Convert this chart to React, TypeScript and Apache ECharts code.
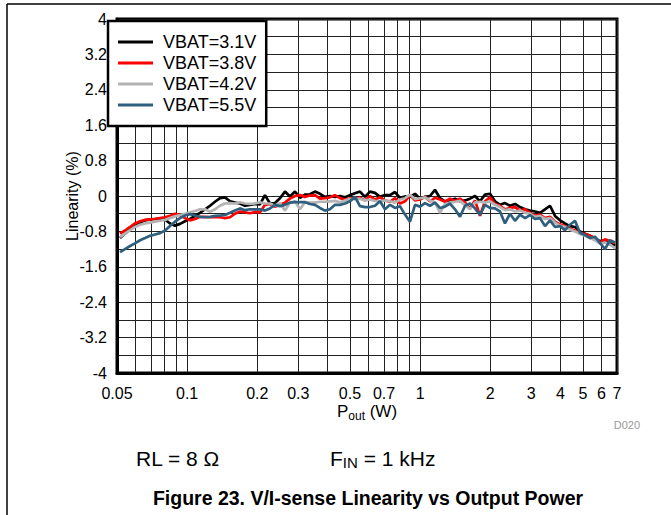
import React, { useEffect, useRef } from "react";
import * as echarts from "echarts";

// Output power sample points (W)
const powerW = [
  0.0515, 0.0541, 0.0569, 0.0597, 0.0628, 0.066, 0.0693, 0.0728, 0.0765, 0.0804,
  0.0844, 0.0887, 0.0932, 0.0979, 0.1029, 0.1081, 0.1136, 0.1193, 0.1254, 0.1317,
  0.1384, 0.1454, 0.1528, 0.1605, 0.1686, 0.1771, 0.1861, 0.1955, 0.2054, 0.2158,
  0.2268, 0.2382, 0.2503, 0.263, 0.2763, 0.2903, 0.305, 0.3204, 0.3367, 0.3537,
  0.3716, 0.3905, 0.4103, 0.4311, 0.4529, 0.4759, 0.5, 0.5253, 0.552, 0.5799,
  0.6093, 0.6402, 0.6726, 0.7067, 0.7425, 0.7801, 0.8196, 0.8612, 0.9048, 0.9506,
  0.9988, 1.0495, 1.1026, 1.1585, 1.2172, 1.2789, 1.3437, 1.4118, 1.4833, 1.5584,
  1.6374, 1.7204, 1.8073, 1.8989, 1.9953, 2.096, 2.2024, 2.3133, 2.4305, 2.5546,
  2.6837, 2.8197, 2.962, 3.1121, 3.2704, 3.4356, 3.6102, 3.7931, 3.9848, 4.1869,
  4.3982, 4.6216, 4.855, 5.1017, 5.3605, 5.6299, 5.9159, 6.2145, 6.5313, 6.8628,
];

// Linearity (%) per battery voltage
const vbat31 = [
  -0.95, -0.85, -0.75, -0.67, -0.6, -0.55, -0.53, -0.52, -0.51, -0.53,
  -0.62, -0.67, -0.63, -0.57, -0.52, -0.45, -0.38, -0.3, -0.22, -0.13,
  -0.05, -0.03, -0.12, -0.15, -0.17, -0.22, -0.2, -0.18, -0.19, 0.02,
  -0.17, -0.16, -0.05, 0.1, -0.01, 0.1, -0.04, 0.03, 0.04, 0.1,
  0.05, -0.02, 0.0, -0.02, 0.0, -0.03, 0.02, 0.06, 0.1, -0.02,
  0.1, 0.07, -0.02, 0.02, 0.02, 0.09, -0.04, -0.01, -0.02, 0.05,
  -0.06, -0.02, 0.0, 0.14, -0.05, -0.12, -0.1, -0.06, -0.12, -0.1,
  -0.06, 0.0, -0.12, 0.03, 0.05, -0.12, -0.2, -0.16, -0.22, -0.18,
  -0.25, -0.3, -0.33, -0.35, -0.38, -0.3, -0.22, -0.45, -0.55, -0.62,
  -0.68, -0.7, -0.8, -0.85, -0.9, -0.96, -1.02, -1.0, -1.05, -1.12,
];
const vbat38 = [
  -0.85, -0.78, -0.7, -0.62, -0.57, -0.54, -0.53, -0.52, -0.5, -0.48,
  -0.45, -0.4, -0.43, -0.5, -0.55, -0.52, -0.47, -0.47, -0.48, -0.48,
  -0.48, -0.5, -0.48, -0.4, -0.35, -0.37, -0.39, -0.36, -0.37, -0.2,
  -0.18, -0.24, -0.2, -0.15, -0.06, 0.0, 0.02, -0.02, 0.01, 0.02,
  -0.06, -0.05, -0.03, 0.02, -0.05, -0.08, -0.06, -0.05, -0.04, -0.1,
  0.0, -0.08, -0.03, -0.1, -0.13, -0.05, -0.17, -0.12, 0.02, -0.1,
  -0.08, -0.02, -0.12, -0.04, -0.08, -0.13, -0.06, -0.12, -0.06, -0.15,
  -0.28, -0.1, -0.45, -0.12, -0.03, -0.18, -0.22, -0.3, -0.27, -0.25,
  -0.33, -0.3, -0.38, -0.45, -0.42, -0.5, -0.47, -0.58, -0.64, -0.68,
  -0.74, -0.78, -0.83, -0.86, -0.9, -0.95, -1.05, -0.98, -1.02, -1.07,
];
const vbat42 = [
  -0.93, -0.85, -0.77, -0.7, -0.65, -0.62, -0.6, -0.58, -0.56, -0.54,
  -0.5, -0.46, -0.43, -0.4, -0.37, -0.34, -0.3, -0.3, -0.36, -0.3,
  -0.22, -0.17, -0.16, -0.17, -0.14, -0.17, -0.18, -0.17, -0.14, -0.17,
  -0.17, -0.22, -0.16, -0.33, -0.15, -0.12, -0.3, -0.14, -0.15, -0.15,
  -0.13, -0.13, -0.12, -0.11, -0.14, -0.1, -0.07, -0.07, -0.06, -0.1,
  -0.08, -0.11, -0.12, -0.1, -0.12, -0.15, -0.08, -0.05, 0.03, -0.07,
  -0.05, -0.03, -0.1, -0.14, -0.38, -0.18, -0.15, -0.13, -0.11, -0.2,
  -0.3, -0.15, -0.13, -0.15, -0.12, -0.2, -0.25, -0.32, -0.3, -0.35,
  -0.33, -0.38, -0.4, -0.47, -0.45, -0.52, -0.5, -0.6, -0.67, -0.7,
  -0.76, -0.8, -0.86, -0.9, -0.95, -1.0, -1.08, -1.05, -1.1, -1.18,
];
const vbat55 = [
  -1.27, -1.2, -1.13, -1.07, -1.0, -0.95, -0.9, -0.87, -0.84, -0.78,
  -0.68, -0.58, -0.5, -0.44, -0.41, -0.44, -0.47, -0.48, -0.47, -0.45,
  -0.44, -0.43, -0.38, -0.33, -0.28, -0.32, -0.3, -0.3, -0.3, -0.33,
  -0.28, -0.2, -0.23, -0.2, -0.15, -0.14, -0.14, -0.14, -0.18, -0.2,
  -0.27, -0.33, -0.3, -0.2, -0.2, -0.17, -0.12, -0.02, -0.23, -0.25,
  -0.25, -0.22, -0.12, -0.3, -0.2, -0.27, -0.23, -0.42, -0.58, -0.2,
  -0.24, -0.16, -0.22, -0.15, -0.27, -0.24, -0.17, -0.3, -0.47, -0.22,
  -0.17, -0.28, -0.43, -0.2, -0.27, -0.28, -0.35, -0.62, -0.4, -0.56,
  -0.42, -0.5, -0.43, -0.52, -0.5, -0.68, -0.55, -0.7, -0.68, -0.77,
  -0.65, -0.56, -0.83, -0.88, -0.95, -0.92, -1.06, -1.2, -1.0, -1.05,
];

const seriesNames = ["VBAT=3.1V", "VBAT=3.8V", "VBAT=4.2V", "VBAT=5.5V"];
const seriesValues = [vbat31, vbat38, vbat42, vbat55];
const seriesColors = ["#000000", "#ff0000", "#b3b3b3", "#2e5f7e"];

const xTickLabels = [0.05, 0.1, 0.2, 0.3, 0.5, 0.7, 1, 2, 3, 4, 5, 6, 7];
const xGridValues = [
  0.05, 0.06, 0.07, 0.08, 0.09, 0.1, 0.2, 0.3, 0.4, 0.5, 0.6, 0.7, 0.8, 0.9,
  1, 2, 3, 4, 5, 6, 7,
];
const xMin = 0.05;
const xMax = 7;
const yMin = -4;
const yMax = 4;
const yGridStep = 0.4;
const yLabelStep = 0.8;

const FONT = "'Liberation Sans', Arial, Helvetica, sans-serif";

export default function App() {
  const ref = useRef<HTMLDivElement>(null);

  useEffect(() => {
    if (!ref.current) return;
    const chart = echarts.init(ref.current, null, { renderer: "svg" });
    const lg = (v: number) => Math.log10(v);
    const fmtP = (v: number) =>
      String(parseFloat(Math.pow(10, v).toPrecision(2)));
    const labelRatio = Math.round(yLabelStep / yGridStep);

    const option: any = {
      animation: false,
      backgroundColor: "#ffffff",
      textStyle: { fontFamily: FONT, color: "#000" },
      grid: {
        left: 117,
        top: 19,
        width: 500,
        height: 354,
        show: true,
        borderColor: "#000",
        borderWidth: 3,
        backgroundColor: "transparent",
      },
      legend: {
        data: seriesNames,
        orient: "vertical",
        left: 108,
        top: 21,
        icon: "rect",
        itemWidth: 35,
        itemHeight: 3,
        itemGap: 1,
        padding: [11, 10, 11, 10],
        backgroundColor: "#ffffff",
        borderColor: "#000",
        borderWidth: 2.5,
        textStyle: {
          fontSize: 18,
          color: "#000",
          fontFamily: FONT,
          lineHeight: 20,
          padding: [0, 0, 0, 5],
        },
      },
      xAxis: {
        type: "value",
        min: lg(xMin),
        max: lg(xMax),
        name: "{a|P}{s|out}{a| (W)}",
        nameLocation: "middle",
        nameGap: 27,
        nameMoveOverlap: false,
        nameTextStyle: {
          rich: {
            a: { fontSize: 17, fontFamily: FONT, color: "#000", lineHeight: 22 },
            s: {
              fontSize: 12,
              fontFamily: FONT,
              color: "#000",
              lineHeight: 22,
              verticalAlign: "bottom",
              padding: [6, 0, 0, 0],
            },
          },
        },
        axisLine: { show: true, onZero: false, lineStyle: { color: "#000", width: 3 } },
        axisTick: { show: false, customValues: xGridValues.map(lg) },
        splitLine: { show: true, lineStyle: { color: "#222", width: 1 } },
        axisLabel: {
          customValues: xTickLabels.map(lg),
          formatter: (v: number) => fmtP(v),
          fontSize: 16,
          color: "#000",
          fontFamily: FONT,
          margin: 12,
        },
      },
      yAxis: {
        type: "value",
        min: yMin,
        max: yMax,
        interval: yGridStep,
        name: "Linearity (%)",
        nameLocation: "middle",
        nameRotate: 90,
        nameGap: 37,
        nameMoveOverlap: false,
        nameTextStyle: { fontSize: 16, fontFamily: FONT, color: "#000" },
        axisLine: { show: true, onZero: false, lineStyle: { color: "#000", width: 3 } },
        axisTick: { show: false },
        splitLine: { show: true, lineStyle: { color: "#222", width: 1 } },
        axisLabel: {
          fontSize: 16,
          color: "#000",
          fontFamily: FONT,
          margin: 10,
          formatter: (v: number) => {
            const k = Math.round(v / yGridStep);
            if (k % labelRatio !== 0) return "";
            return String(parseFloat(v.toFixed(1)));
          },
        },
      },
      series: seriesNames.map((name, si) => ({
        name,
        type: "line",
        symbol: "none",
        showSymbol: false,
        data: powerW.map((p, i) => [lg(p), seriesValues[si][i]]),
        lineStyle: { color: seriesColors[si], width: 2.7 },
        itemStyle: { color: seriesColors[si] },
        z: 3 + si,
      })),
      graphic: [
        {
          type: "line",
          shape: { x1: 7, y1: 4, x2: 671, y2: 4 },
          style: { stroke: "#000", lineWidth: 1.5 },
        },
        {
          type: "line",
          shape: { x1: 7, y1: 4, x2: 7, y2: 515 },
          style: { stroke: "#000", lineWidth: 1.5 },
        },
        {
          type: "text",
          x: 640,
          y: 425,
          style: {
            text: "D020",
            fontSize: 11,
            fontFamily: FONT,
            fill: "#9a9a9a",
            align: "right",
            verticalAlign: "middle",
          },
        },
        {
          type: "text",
          x: 136,
          y: 458,
          style: {
            text: "RL = 8 Ω",
            fontSize: 21,
            fontFamily: FONT,
            fill: "#000",
            align: "left",
            verticalAlign: "middle",
          },
        },
        {
          type: "text",
          x: 330,
          y: 458,
          style: {
            text: "{a|F}{s|IN}{a| = 1 kHz}",
            align: "left",
            verticalAlign: "middle",
            rich: {
              a: { fontSize: 21, fontFamily: FONT, fill: "#000", lineHeight: 24 },
              s: {
                fontSize: 15,
                fontFamily: FONT,
                fill: "#000",
                lineHeight: 24,
                verticalAlign: "bottom",
                padding: [7, 0, 0, 0],
              },
            },
          },
        },
        {
          type: "text",
          x: 368,
          y: 498,
          style: {
            text: "Figure 23. V/I-sense Linearity vs Output Power",
            fontSize: 19.5,
            fontWeight: "bold",
            fontFamily: FONT,
            fill: "#000",
            align: "center",
            verticalAlign: "middle",
          },
        },
      ],
    };

    chart.setOption(option);
    return () => chart.dispose();
  }, []);

  return (
    <div
      ref={ref}
      style={{
        position: "absolute",
        left: 0,
        top: 0,
        width: 671,
        height: 515,
        background: "#fff",
      }}
    />
  );
}
